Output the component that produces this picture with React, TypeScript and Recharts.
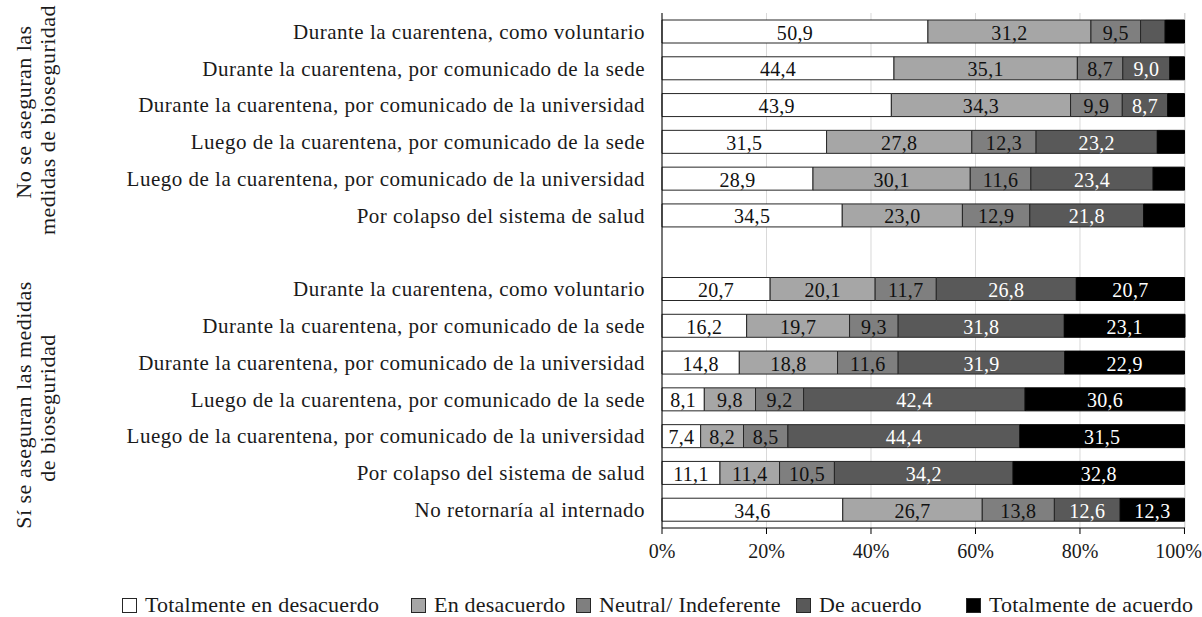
import { Bar, BarChart, CartesianGrid, LabelList, XAxis, YAxis } from "recharts";

const FONT = '"Liberation Serif", "DejaVu Serif", serif';

const categories = [
  "Durante la cuarentena, como voluntario",
  "Durante la cuarentena, por comunicado de la sede",
  "Durante la cuarentena, por comunicado de la universidad",
  "Luego de la cuarentena, por comunicado de la sede",
  "Luego de la cuarentena, por comunicado de la universidad",
  "Por colapso  del sistema de salud",
  "",
  "Durante la cuarentena, como voluntario",
  "Durante la cuarentena, por comunicado de la sede",
  "Durante la cuarentena, por comunicado de la universidad",
  "Luego de la cuarentena, por comunicado de la sede",
  "Luego de la cuarentena, por comunicado de la universidad",
  "Por colapso del sistema de salud",
  "No retornaría al internado",
];

const totDesacuerdo = [50.9, 44.4, 43.9, 31.5, 28.9, 34.5, null, 20.7, 16.2, 14.8, 8.1, 7.4, 11.1, 34.6];
const enDesacuerdo = [31.2, 35.1, 34.3, 27.8, 30.1, 23.0, null, 20.1, 19.7, 18.8, 9.8, 8.2, 11.4, 26.7];
const neutral = [9.5, 8.7, 9.9, 12.3, 11.6, 12.9, null, 11.7, 9.3, 11.6, 9.2, 8.5, 10.5, 13.8];
const deAcuerdo = [4.7, 9.0, 8.7, 23.2, 23.4, 21.8, null, 26.8, 31.8, 31.9, 42.4, 44.4, 34.2, 12.6];
const totAcuerdo = [3.7, 2.8, 3.2, 5.2, 6.0, 7.8, null, 20.7, 23.1, 22.9, 30.6, 31.5, 32.8, 12.3];

// segments printed without a number in the source
const unlabeled: Record<string, number[]> = {
  deAcuerdo: [0],
  totAcuerdo: [0, 1, 2, 3, 4, 5],
};

const xTicks = [0, 20, 40, 60, 80, 100];

const series = [
  { key: "totDesacuerdo", name: "Totalmente en desacuerdo", fill: "#ffffff", stroke: "#262626", text: "#111" },
  { key: "enDesacuerdo", name: "En desacuerdo", fill: "#a6a6a6", stroke: "#262626", text: "#111" },
  { key: "neutral", name: "Neutral/ Indeferente", fill: "#7f7f7f", stroke: "#262626", text: "#111" },
  { key: "deAcuerdo", name: "De acuerdo", fill: "#595959", stroke: "#262626", text: "#fff" },
  { key: "totAcuerdo", name: "Totalmente de acuerdo", fill: "#000000", stroke: "#000000", text: "#fff" },
];

const data = categories.map((c, i) => ({
  id: i,
  label: c,
  totDesacuerdo: totDesacuerdo[i],
  enDesacuerdo: enDesacuerdo[i],
  neutral: neutral[i],
  deAcuerdo: deAcuerdo[i],
  totAcuerdo: totAcuerdo[i],
}));

const legendLeft = [122, 411, 576, 796, 966];

function makeLabel(key: string, color: string) {
  return (props: any) => {
    const { x, y, width, height, value, index } = props;
    if (value == null || (unlabeled[key] || []).includes(index)) return null;
    return (
      <text
        x={Number(x) + Number(width) / 2}
        y={Number(y) + Number(height) / 2 + 8}
        textAnchor="middle"
        fill={color}
        fontSize={20}
        letterSpacing={0.3}
        fontFamily={FONT}
      >
        {Number(value).toFixed(1).replace(".", ",")}
      </text>
    );
  };
}

export default function App() {
  return (
    <div style={{ position: "absolute", left: 0, top: 0, width: 1202, height: 617, background: "#fff", fontFamily: FONT, overflow: "hidden" }}>
      <BarChart
        width={1202}
        height={570}
        data={data}
        layout="vertical"
        margin={{ top: 13, right: 17, bottom: 0, left: 0 }}
        barSize={23}
      >
        <CartesianGrid horizontal={false} stroke="#d9d9d9" />
        <XAxis
          type="number"
          domain={[0, 100]}
          ticks={xTicks}
          tickFormatter={(v) => `${v}%`}
          height={42}
          stroke="#000"
          tickSize={6}
          tick={{ fill: "#1a1a1a", fontSize: 20, fontFamily: FONT }}
          tickMargin={10}
        />
        <YAxis
          type="category"
          dataKey="id"
          width={662}
          stroke="#000"
          tickLine={false}
          tickSize={6}
          tickMargin={11}
          interval={0}
          tickFormatter={(v) => categories[v]}
          tick={{ fill: "#1a1a1a", fontSize: 21, fontFamily: FONT, letterSpacing: 0.5 }}
        />
        {series.map((s) => (
          <Bar
            key={s.key}
            dataKey={s.key}
            name={s.name}
            stackId="a"
            fill={s.fill}
            stroke={s.stroke}
            strokeWidth={1}
            isAnimationActive={false}
          >
            <LabelList dataKey={s.key} content={makeLabel(s.key, s.text)} />
          </Bar>
        ))}
      </BarChart>

      <svg width={80} height={570} style={{ position: "absolute", left: 0, top: 0 }}>
        <g fontFamily={FONT} fontSize={22} fill="#1a1a1a" letterSpacing={0.5} textAnchor="middle">
          <text x={31} y={112} transform="rotate(-90 31 112)">No se aseguran las</text>
          <text x={55} y={120} transform="rotate(-90 55 120)">medidas de bioseguridad</text>
          <text x={31} y={405} transform="rotate(-90 31 405)">Sí se aseguran las medidas</text>
          <text x={55} y={408} transform="rotate(-90 55 408)">de bioseguridad</text>
        </g>
      </svg>

      {series.map((s, i) => (
        <div
          key={s.key}
          style={{ position: "absolute", top: 592, left: legendLeft[i], display: "flex", alignItems: "center", fontSize: 22, letterSpacing: 0.2, color: "#1a1a1a", whiteSpace: "nowrap" }}
        >
          <span style={{ display: "inline-block", width: 13, height: 13, background: s.fill, border: "1px solid #262626", marginRight: 8 }} />
          {s.name}
        </div>
      ))}
    </div>
  );
}
